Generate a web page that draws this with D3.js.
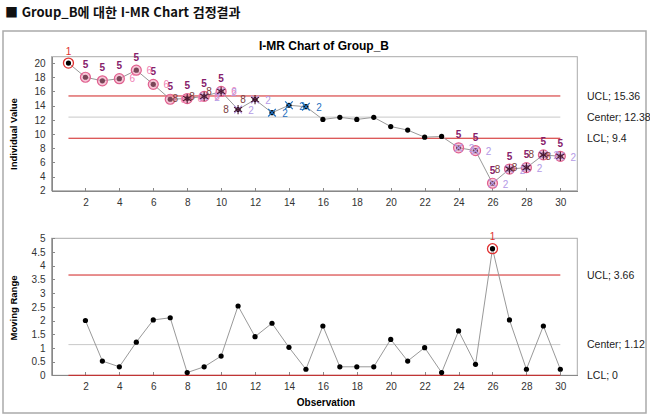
<!DOCTYPE html>
<html lang="ko">

<head>
    <meta charset="utf-8">
    <title>I-MR Chart</title>
    <script src="https://cdn.jsdelivr.net/npm/d3@7/dist/d3.min.js"></script>
</head>
<style>
    body { margin: 0; background: #fff; }
    svg text { font-family: "Liberation Sans", Arial, sans-serif; }
    .axis path, .axis line { stroke: #888; shape-rendering: crispEdges; }
    .axis text { font-size: 10px; fill: #333; }
</style>

<body>
    <script>
        // 데이터
        var observations = d3.range(1, 31);
        var individualValues = [20.0, 18.0, 17.5, 17.8, 19.0, 17.0, 14.9, 15.0, 15.3, 16.0,
            13.45, 14.85, 13.0, 14.05, 13.85, 12.05, 12.35, 12.05, 12.35, 11.05,
            10.55, 9.55, 9.65, 8.05, 7.65, 3.05, 5.05, 5.25, 7.05, 6.85];
        var movingRanges = [null, 2.0, 0.52, 0.31, 1.21, 2.02, 2.1, 0.1, 0.31, 0.7,
            2.53, 1.41, 1.9, 1.02, 0.22, 1.8, 0.31, 0.31, 0.31, 1.31,
            0.52, 1.01, 0.1, 1.62, 0.4, 4.62, 2.02, 0.22, 1.8, 0.22];
        var limitNames = ["UCL", "Center", "LCL"];
        var iLimits = [15.36, 12.38, 9.4];
        var mrLimits = [3.66, 1.12, 0];
        var xTicks = [2, 4, 6, 8, 10, 12, 14, 16, 18, 20, 22, 24, 26, 28, 30];
        var iTicks = [2, 4, 6, 8, 10, 12, 14, 16, 18, 20];
        var mrTicks = [0, 0.5, 1, 1.5, 2, 2.5, 3, 3.5, 4, 4.5, 5];

        // 검정 규칙 위반 관측치
        var test1I = [1];
        var test1MR = [26];
        var test2 = [9, 10, 11, 12, 13, 14, 15, 24, 25, 26, 27, 28, 29, 30];
        var test5 = [2, 3, 4, 5, 6, 7, 8, 9, 10, 24, 25, 26, 27, 28, 29, 30];
        var test6 = [4, 5, 6, 7, 8, 9, 10];
        var test8 = [8, 9, 10, 11, 12, 27, 28, 29, 30];

        var width = 650, height = 417;
        var svg = d3.select("body").append("svg")
            .attr("width", width)
            .attr("height", height);

        // 제목
        svg.append("text")
            .attr("x", 5).attr("y", 17)
            .style("font-family", "'Noto Sans CJK KR', sans-serif")
            .style("font-weight", "bold")
            .style("font-size", "13px")
            .attr("fill", "#111")
            .text("■ Group_B에 대한 I-MR Chart 검정결과");

        // 바깥 테두리
        svg.append("rect")
            .attr("x", 3).attr("y", 31).attr("width", 643).attr("height", 382)
            .attr("fill", "#fff").attr("stroke", "#aaa").attr("stroke-width", 1.5);

        svg.append("text")
            .attr("x", 324).attr("y", 50)
            .attr("text-anchor", "middle")
            .style("font-weight", "bold").style("font-size", "12px")
            .text("I-MR Chart of Group_B");

        var x = d3.scaleLinear().domain([0, 31]).range([51.5, 577.3]);
        var yI = d3.scaleLinear().domain([2, 20.9]).range([190.7, 56.7]);
        var yMR = d3.scaleLinear().domain([0, 5]).range([375.3, 238.3]);

        function panel(y, ticks, limits, values, yTitle, titleY) {
            var g = svg.append("g");
            g.append("rect")
                .attr("x", x(0)).attr("y", y.range()[1])
                .attr("width", x(31) - x(0)).attr("height", y.range()[0] - y.range()[1])
                .attr("fill", "none").attr("stroke", "#aaa");

            g.append("g").attr("class", "axis")
                .attr("transform", "translate(0," + y.range()[0] + ")")
                .call(d3.axisBottom(x).tickValues(xTicks).tickSizeInner(-3).tickSizeOuter(0).tickPadding(8));
            g.append("g").attr("class", "axis")
                .attr("transform", "translate(" + x(0) + ",0)")
                .call(d3.axisLeft(y).tickValues(ticks).tickFormat(function (d) { return String(d); })
                    .tickSizeInner(-3).tickSizeOuter(0).tickPadding(6));

            // 관리한계선
            limits.forEach(function (v, i) {
                g.append("line")
                    .attr("x1", x(1)).attr("x2", x(30))
                    .attr("y1", y(v)).attr("y2", y(v))
                    .attr("stroke", i == 1 ? "#c8c8c8" : "#d02020")
                    .attr("stroke-width", 1);
                g.append("text")
                    .attr("x", 587).attr("y", y(v))
                    .attr("dy", "0.35em")
                    .style("font-size", "10.5px").attr("fill", "#222")
                    .text(limitNames[i] + "; " + v);
            });

            var pts = observations.map(function (o, i) { return { o: o, v: values[i] }; })
                .filter(function (d) { return d.v != null; });

            var line = d3.line()
                .x(function (d) { return x(d.o); })
                .y(function (d) { return y(d.v); });
            g.append("path").datum(pts)
                .attr("d", line)
                .attr("fill", "none").attr("stroke", "#999").attr("stroke-width", 1);

            g.selectAll(".dot").data(pts).enter().append("circle")
                .attr("cx", function (d) { return x(d.o); })
                .attr("cy", function (d) { return y(d.v); })
                .attr("r", 2.6).attr("fill", "#000");

            g.append("text")
                .attr("transform", "translate(17," + titleY + ") rotate(-90)")
                .attr("text-anchor", "middle")
                .style("font-weight", "bold").style("font-size", "9.5px")
                .text(yTitle);
            return g;
        }

        var gI = panel(yI, iTicks, iLimits, individualValues, "Individual Value", 134);
        var gMR = panel(yMR, mrTicks, mrLimits, movingRanges, "Moving Range", 308);

        svg.append("text")
            .attr("x", 326).attr("y", 406)
            .attr("text-anchor", "middle")
            .style("font-weight", "bold").style("font-size", "10px")
            .text("Observation");

        function label(g, px, py, t, color, bold) {
            g.append("text")
                .attr("x", px).attr("y", py)
                .attr("dy", "0.35em")
                .attr("text-anchor", "middle")
                .style("font-size", "10px")
                .style("font-weight", bold ? "bold" : "normal")
                .attr("fill", color)
                .text(t);
        }

        function valueOf(o) { return individualValues[o - 1]; }

        // 규칙 5: 분홍 원
        test5.forEach(function (o) {
            var cx = x(o), cy = yI(valueOf(o));
            gI.append("circle").attr("cx", cx).attr("cy", cy).attr("r", 5)
                .attr("fill", "rgba(240,140,175,0.5)").attr("stroke", "#e0608f").attr("stroke-width", 1.2);
            label(gI, cx, cy - 13, "5", "#86206b", true);
        });

        // 규칙 6
        test6.forEach(function (o) {
            label(gI, x(o) + 13, yI(valueOf(o)), "6", "#f080b4", false);
        });

        // 규칙 2: X 표시
        var cross = d3.symbol().type(d3.symbolX).size(40);
        test2.forEach(function (o) {
            var only = test5.indexOf(o) < 0 && test8.indexOf(o) < 0;
            var c = only ? "#1f70c0" : "#b49ae6";
            var cx = x(o), cy = yI(valueOf(o));
            gI.append("path").attr("d", cross)
                .attr("transform", "translate(" + cx + "," + cy + ")")
                .attr("fill", "none").attr("stroke", c).attr("stroke-width", 1.2);
            label(gI, cx + 13, cy + 1, "2", c, false);
        });

        // 규칙 8: 별표
        var star = d3.symbol().type(d3.symbolAsterisk).size(60);
        test8.forEach(function (o) {
            var cx = x(o), cy = yI(valueOf(o));
            gI.append("path").attr("d", star)
                .attr("transform", "translate(" + cx + "," + cy + ")")
                .attr("fill", "none").attr("stroke", "#4a1830").attr("stroke-width", 1.1);
            label(gI, cx - 12, cy, "8", "#7a3c3c", false);
        });

        // 규칙 1: 빨간 원
        function test1(g, y, list, vals) {
            list.forEach(function (o) {
                var cx = x(o), cy = y(vals[o - 1]);
                g.append("circle").attr("cx", cx).attr("cy", cy).attr("r", 5)
                    .attr("fill", "none").attr("stroke", "#e03030").attr("stroke-width", 1.3);
                label(g, cx, cy - 12, "1", "#e03030", false);
            });
        }
        test1(gI, yI, test1I, individualValues);
        test1(gMR, yMR, test1MR, movingRanges);
    </script>
</body>

</html>
